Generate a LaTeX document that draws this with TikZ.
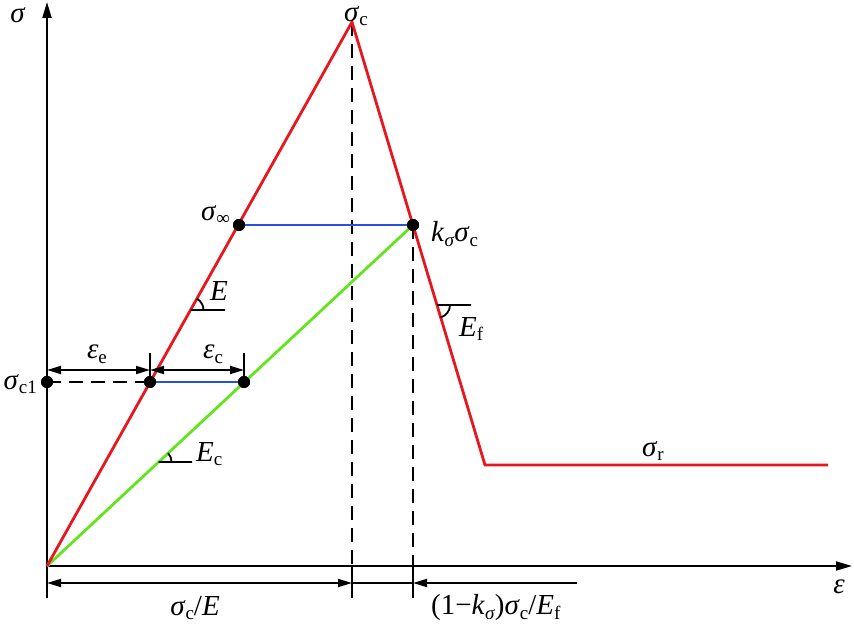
\documentclass[tikz,border=0pt]{standalone}
\usepackage{fontspec}
\setmainfont{Liberation Serif}
\usetikzlibrary{arrows.meta}
\definecolor{redl}{RGB}{232,22,30}
\definecolor{bluel}{RGB}{40,80,220}
\definecolor{greenl}{RGB}{100,228,30}
\newcommand\sbs[1]{\raisebox{-0.35ex}{\fontsize{19}{19}\selectfont #1}}
\newcommand\gsig{\textit{σ}}
\tikzset{
  axis/.style={line width=2pt,-{Triangle[length=16pt,width=9pt]}},
  dimline/.style={line width=1.8pt},
  dimarr/.style={line width=1.8pt,{Triangle[length=14pt,width=8pt]}-{Triangle[length=14pt,width=8pt]}},
  dimleft/.style={line width=1.8pt,{Triangle[length=14pt,width=8pt]}-},
  dashline/.style={line width=1.8pt,dash pattern=on 14pt off 8pt},
  redc/.style={redl,line width=2.8pt,line join=miter},
  bluec/.style={bluel,line width=2.8pt},
  greenc/.style={greenl,line width=2.8pt},
  dot/.style={circle,fill=black,inner sep=0pt,minimum size=12pt},
  lab/.style={inner sep=0pt,font=\fontsize{29}{29}\selectfont},
  angmark/.style={line width=1.8pt},
}
\begin{document}
\begin{tikzpicture}[x=1pt,y=1pt]
\useasboundingbox (0,0) rectangle (854,624);
% coordinates
\coordinate (O) at (47,58);
\coordinate (Ytop) at (47,622);
\coordinate (Ybot) at (47,26);
\coordinate (Xend) at (852,58);
\coordinate (P) at (352,602);
\coordinate (R1) at (485,159);
\coordinate (R2) at (828,159);
\coordinate (P0) at (352,58);
\coordinate (P1) at (352,26);
\coordinate (K0) at (413,58);
\coordinate (K1) at (413,26);
\coordinate (Ta2) at (150,271);
\coordinate (Tb2) at (244,271);
\coordinate (Da) at (47,254);
\coordinate (Db) at (150,254);
\coordinate (Dc) at (244,254);
\coordinate (La) at (47,41);
\coordinate (Lb) at (352,41);
\coordinate (Lc) at (413,41);
\coordinate (Ld) at (577,41);
\coordinate (EV) at (190.5,314);
\coordinate (EH) at (225,314);
\coordinate (FV) at (437,319);
\coordinate (FH) at (471,319);
\coordinate (CV) at (158.6,162);
\coordinate (CH) at (192,162);
% axes
\draw[axis] (Ybot) -- (Ytop);
\draw[axis] (O) -- (Xend);
% points
\node[dot] (K) at (413,399) {};
\node[dot] (S) at (239,399) {};
\node[dot] (A) at (47,242) {};
\node[dot] (B) at (150,242) {};
\node[dot] (C) at (244,242) {};
% dashed verticals
\draw[dashline] (P) -- (P0);
\draw[dashline] (K.center) -- (K0);
\draw[dimline] (P0) -- (P1);
\draw[dimline] (K0) -- (K1);
\draw[dashline] (A.center) -- (B.center);
% curves
\draw[greenc] (O) -- (K.center);
\draw[bluec] (S.center) -- (K.center);
\draw[bluec] (B.center) -- (C.center);
\draw[redc] (O) -- (P) -- (R1) -- (R2);
% dimension ticks and arrows
\draw[dimline] (B.center) -- (Ta2);
\draw[dimline] (C.center) -- (Tb2);
\draw[dimarr] (Da) -- (Db);
\draw[dimarr] (Db) -- (Dc);
\draw[dimarr] (La) -- (Lb);
\draw[dimline] (Lb) -- (Lc);
\draw[dimleft] (Lc) -- (Ld);
% angle marks
\draw[angmark] (EH) -- (EV) ++(13,0) arc[start angle=0,end angle=60.7,radius=13];
\draw[angmark] (FH) -- (FV) ++(13,0) arc[start angle=0,end angle=-73.3,radius=13];
\draw[angmark] (CH) -- (CV) ++(13,0) arc[start angle=0,end angle=43,radius=13];
% redraw dots on top
\node[dot] at (K) {};
\node[dot] at (S) {};
\node[dot] at (A) {};
\node[dot] at (B) {};
\node[dot] at (C) {};
% labels
\node[lab] (lsig) at (18,609) {\gsig};
\node[lab] (lsigc) at (356,608) {\gsig\sbs{c}};
\node[lab,anchor=east] (lsinf) at (230,409) {\gsig\sbs{∞}};
\node[lab,anchor=west] (lksc) at (431,390) {\textit{k}\sbs{\textit{σ}}\gsig\sbs{c}};
\node[lab,anchor=west] (lE) at (210,333) {\textit{E}};
\node[lab,anchor=west] (lEf) at (459,295) {\textit{E}\sbs{f}};
\node[lab] (lee) at (97,270) {\textit{ε}\sbs{e}};
\node[lab] (lec) at (213,270) {\textit{ε}\sbs{c}};
\node[lab,anchor=east] (lsc1) at (37,240) {\gsig\sbs{c1}};
\node[lab,anchor=west] (lEc) at (196,170) {\textit{E}\sbs{c}};
\node[lab] (lsr) at (653,173) {\gsig\sbs{r}};
\node[lab] (lscE) at (195,16) {\gsig\sbs{c}/\textit{E}};
\node[lab,anchor=west] (lbig) at (431,16) {(1−\textit{k}\sbs{\textit{σ}})\gsig\sbs{c}/\textit{E}\sbs{f}};
\node[lab] (leps) at (839,37) {\textit{ε}};
\end{tikzpicture}
\end{document}
